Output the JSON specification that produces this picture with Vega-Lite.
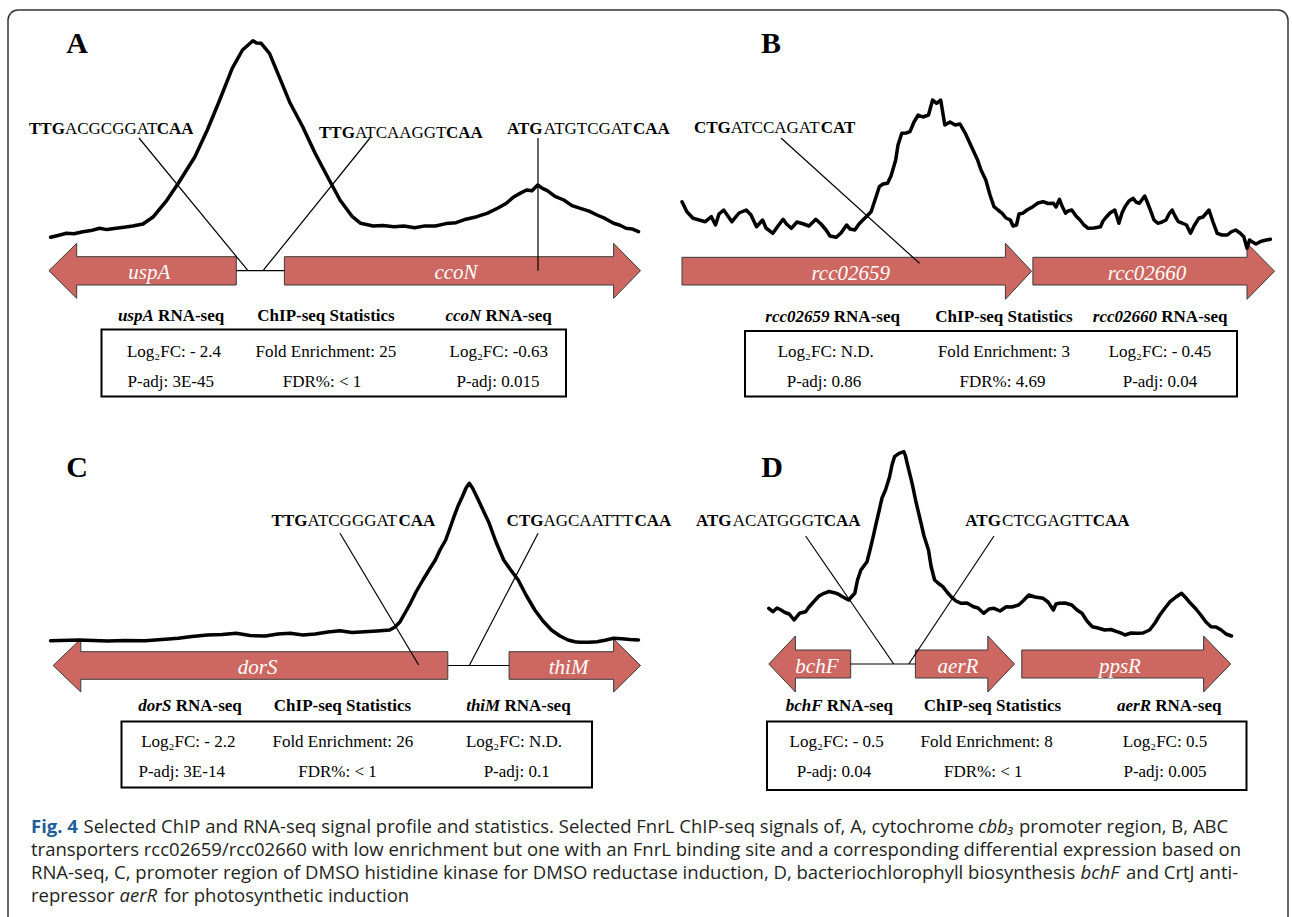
{
  "$schema": "https://vega.github.io/schema/vega-lite/v6.json",
  "width": 1292,
  "height": 917,
  "autosize": {"type": "fit", "contains": "padding"},
  "padding": 0,
  "background": "white",
  "config": {"view": {"stroke": null}},
  "datasets": {
    "frame": [{"pos": 8, "lev": 10, "pos2": 1288, "lev2": 960}],
    "statsBox": [
      {"panel": "A", "pos": 101.5, "lev": 329.5, "pos2": 566, "lev2": 396.5},
      {"panel": "B", "pos": 745, "lev": 331, "pos2": 1237, "lev2": 396.5},
      {"panel": "C", "pos": 121.5, "lev": 721.5, "pos2": 592, "lev2": 787.5},
      {"panel": "D", "pos": 767, "lev": 721.5, "pos2": 1246.5, "lev2": 790}
    ],
    "genes": [
      {"gene": "uspA", "k": 1, "pos": 48.9, "lev": 270.7}, {"gene": "uspA", "k": 2, "pos": 76.7, "lev": 243.3},
      {"gene": "uspA", "k": 3, "pos": 76.7, "lev": 256.7}, {"gene": "uspA", "k": 4, "pos": 236.3, "lev": 256.7},
      {"gene": "uspA", "k": 5, "pos": 236.3, "lev": 285}, {"gene": "uspA", "k": 6, "pos": 76.7, "lev": 285},
      {"gene": "uspA", "k": 7, "pos": 76.7, "lev": 298.3}, {"gene": "uspA", "k": 8, "pos": 48.9, "lev": 270.7},

      {"gene": "ccoN", "k": 1, "pos": 284.4, "lev": 256.7}, {"gene": "ccoN", "k": 2, "pos": 613.6, "lev": 256.7},
      {"gene": "ccoN", "k": 3, "pos": 613.6, "lev": 243.3}, {"gene": "ccoN", "k": 4, "pos": 640.5, "lev": 270.7},
      {"gene": "ccoN", "k": 5, "pos": 613.6, "lev": 298.3}, {"gene": "ccoN", "k": 6, "pos": 613.6, "lev": 285},
      {"gene": "ccoN", "k": 7, "pos": 284.4, "lev": 285}, {"gene": "ccoN", "k": 8, "pos": 284.4, "lev": 256.7},

      {"gene": "rcc02659", "k": 1, "pos": 682, "lev": 257.3}, {"gene": "rcc02659", "k": 2, "pos": 1005.4, "lev": 257.3},
      {"gene": "rcc02659", "k": 3, "pos": 1005.4, "lev": 243.3}, {"gene": "rcc02659", "k": 4, "pos": 1031.6, "lev": 271.2},
      {"gene": "rcc02659", "k": 5, "pos": 1005.4, "lev": 299.3}, {"gene": "rcc02659", "k": 6, "pos": 1005.4, "lev": 285},
      {"gene": "rcc02659", "k": 7, "pos": 682, "lev": 285}, {"gene": "rcc02659", "k": 8, "pos": 682, "lev": 257.3},

      {"gene": "rcc02660", "k": 1, "pos": 1032.9, "lev": 257.3}, {"gene": "rcc02660", "k": 2, "pos": 1247, "lev": 257.3},
      {"gene": "rcc02660", "k": 3, "pos": 1247, "lev": 243.3}, {"gene": "rcc02660", "k": 4, "pos": 1274.5, "lev": 271.2},
      {"gene": "rcc02660", "k": 5, "pos": 1247, "lev": 299.3}, {"gene": "rcc02660", "k": 6, "pos": 1247, "lev": 285},
      {"gene": "rcc02660", "k": 7, "pos": 1032.9, "lev": 285}, {"gene": "rcc02660", "k": 8, "pos": 1032.9, "lev": 257.3},

      {"gene": "dorS", "k": 1, "pos": 53.1, "lev": 665.5}, {"gene": "dorS", "k": 2, "pos": 80.8, "lev": 639},
      {"gene": "dorS", "k": 3, "pos": 80.8, "lev": 651.7}, {"gene": "dorS", "k": 4, "pos": 447.8, "lev": 651.7},
      {"gene": "dorS", "k": 5, "pos": 447.8, "lev": 679.3}, {"gene": "dorS", "k": 6, "pos": 80.8, "lev": 679.3},
      {"gene": "dorS", "k": 7, "pos": 80.8, "lev": 692}, {"gene": "dorS", "k": 8, "pos": 53.1, "lev": 665.5},

      {"gene": "thiM", "k": 1, "pos": 509.1, "lev": 651.7}, {"gene": "thiM", "k": 2, "pos": 613.6, "lev": 651.7},
      {"gene": "thiM", "k": 3, "pos": 613.6, "lev": 639}, {"gene": "thiM", "k": 4, "pos": 640.5, "lev": 665.5},
      {"gene": "thiM", "k": 5, "pos": 613.6, "lev": 692}, {"gene": "thiM", "k": 6, "pos": 613.6, "lev": 679.3},
      {"gene": "thiM", "k": 7, "pos": 509.1, "lev": 679.3}, {"gene": "thiM", "k": 8, "pos": 509.1, "lev": 651.7},

      {"gene": "bchF", "k": 1, "pos": 768.8, "lev": 664}, {"gene": "bchF", "k": 2, "pos": 795.4, "lev": 636},
      {"gene": "bchF", "k": 3, "pos": 795.4, "lev": 650}, {"gene": "bchF", "k": 4, "pos": 850.7, "lev": 650},
      {"gene": "bchF", "k": 5, "pos": 850.7, "lev": 678}, {"gene": "bchF", "k": 6, "pos": 795.4, "lev": 678},
      {"gene": "bchF", "k": 7, "pos": 795.4, "lev": 692}, {"gene": "bchF", "k": 8, "pos": 768.8, "lev": 664},

      {"gene": "aerR", "k": 1, "pos": 915.4, "lev": 650}, {"gene": "aerR", "k": 2, "pos": 987.8, "lev": 650},
      {"gene": "aerR", "k": 3, "pos": 987.8, "lev": 636}, {"gene": "aerR", "k": 4, "pos": 1014.5, "lev": 664},
      {"gene": "aerR", "k": 5, "pos": 987.8, "lev": 692}, {"gene": "aerR", "k": 6, "pos": 987.8, "lev": 678},
      {"gene": "aerR", "k": 7, "pos": 915.4, "lev": 678}, {"gene": "aerR", "k": 8, "pos": 915.4, "lev": 650},

      {"gene": "ppsR", "k": 1, "pos": 1021.8, "lev": 650}, {"gene": "ppsR", "k": 2, "pos": 1203.6, "lev": 650},
      {"gene": "ppsR", "k": 3, "pos": 1203.6, "lev": 636}, {"gene": "ppsR", "k": 4, "pos": 1230.7, "lev": 664},
      {"gene": "ppsR", "k": 5, "pos": 1203.6, "lev": 692}, {"gene": "ppsR", "k": 6, "pos": 1203.6, "lev": 678},
      {"gene": "ppsR", "k": 7, "pos": 1021.8, "lev": 678}, {"gene": "ppsR", "k": 8, "pos": 1021.8, "lev": 650}
    ],
    "connectors": [
      {"pos": 236.3, "lev": 270.7, "pos2": 284.4, "lev2": 270.7},
      {"pos": 139, "lev": 138, "pos2": 248, "lev2": 270.7},
      {"pos": 370, "lev": 138, "pos2": 263, "lev2": 270.7},
      {"pos": 538, "lev": 138, "pos2": 538, "lev2": 270.7},
      {"pos": 781, "lev": 138, "pos2": 919.5, "lev2": 263.3},
      {"pos": 447.8, "lev": 665.5, "pos2": 509.1, "lev2": 665.5},
      {"pos": 340, "lev": 533.3, "pos2": 418.7, "lev2": 665},
      {"pos": 538.1, "lev": 533.3, "pos2": 469.3, "lev2": 665.5},
      {"pos": 850.7, "lev": 664, "pos2": 915.4, "lev2": 664},
      {"pos": 805.6, "lev": 536, "pos2": 893.7, "lev2": 664},
      {"pos": 994, "lev": 536, "pos2": 908.8, "lev2": 664}
    ],
    "signal": [
      {"panel": "A", "pos": 50.6, "lev": 237.3}, {"panel": "A", "pos": 58, "lev": 235.5}, {"panel": "A", "pos": 66.3, "lev": 233.3},
      {"panel": "A", "pos": 74, "lev": 233.8}, {"panel": "A", "pos": 82.9, "lev": 231.7}, {"panel": "A", "pos": 91, "lev": 230.6},
      {"panel": "A", "pos": 99.5, "lev": 228.3}, {"panel": "A", "pos": 107, "lev": 229.6}, {"panel": "A", "pos": 116, "lev": 228.3},
      {"panel": "A", "pos": 124, "lev": 227.2}, {"panel": "A", "pos": 132.7, "lev": 226}, {"panel": "A", "pos": 143, "lev": 224},
      {"panel": "A", "pos": 153.4, "lev": 216.7}, {"panel": "A", "pos": 165.8, "lev": 201.7}, {"panel": "A", "pos": 178.3, "lev": 183.3},
      {"panel": "A", "pos": 194.9, "lev": 156.7}, {"panel": "A", "pos": 207.3, "lev": 130}, {"panel": "A", "pos": 219.7, "lev": 100},
      {"panel": "A", "pos": 232.2, "lev": 68.3}, {"panel": "A", "pos": 242.5, "lev": 50}, {"panel": "A", "pos": 252.9, "lev": 40.7},
      {"panel": "A", "pos": 256.5, "lev": 43}, {"panel": "A", "pos": 261.2, "lev": 43.3}, {"panel": "A", "pos": 269.5, "lev": 53.3},
      {"panel": "A", "pos": 277.8, "lev": 73.3}, {"panel": "A", "pos": 290.2, "lev": 103.3}, {"panel": "A", "pos": 302.7, "lev": 126.7},
      {"panel": "A", "pos": 315.1, "lev": 153.3}, {"panel": "A", "pos": 327.5, "lev": 176.7}, {"panel": "A", "pos": 340, "lev": 200},
      {"panel": "A", "pos": 352.4, "lev": 216.7}, {"panel": "A", "pos": 360.7, "lev": 223.3}, {"panel": "A", "pos": 373.1, "lev": 226},
      {"panel": "A", "pos": 383, "lev": 225.4}, {"panel": "A", "pos": 393.9, "lev": 226.7}, {"panel": "A", "pos": 404, "lev": 226.1},
      {"panel": "A", "pos": 414.6, "lev": 227.7}, {"panel": "A", "pos": 425, "lev": 225.9}, {"panel": "A", "pos": 435.3, "lev": 226},
      {"panel": "A", "pos": 446, "lev": 223.6}, {"panel": "A", "pos": 456, "lev": 222.7}, {"panel": "A", "pos": 466, "lev": 219.2},
      {"panel": "A", "pos": 476.8, "lev": 216.7}, {"panel": "A", "pos": 487, "lev": 213.4}, {"panel": "A", "pos": 497.5, "lev": 208.3},
      {"panel": "A", "pos": 506, "lev": 203.5}, {"panel": "A", "pos": 514.1, "lev": 196.7}, {"panel": "A", "pos": 520, "lev": 193.4},
      {"panel": "A", "pos": 526.5, "lev": 190}, {"panel": "A", "pos": 532, "lev": 190.8}, {"panel": "A", "pos": 537.7, "lev": 185},
      {"panel": "A", "pos": 542, "lev": 188.2}, {"panel": "A", "pos": 547.3, "lev": 190.7}, {"panel": "A", "pos": 555, "lev": 196.4},
      {"panel": "A", "pos": 563.8, "lev": 200}, {"panel": "A", "pos": 572, "lev": 205.6}, {"panel": "A", "pos": 580.4, "lev": 208.3},
      {"panel": "A", "pos": 589, "lev": 211.2}, {"panel": "A", "pos": 597, "lev": 215}, {"panel": "A", "pos": 605, "lev": 218.4},
      {"panel": "A", "pos": 613.6, "lev": 223.3}, {"panel": "A", "pos": 620, "lev": 225.2}, {"panel": "A", "pos": 626, "lev": 228.3},
      {"panel": "A", "pos": 632, "lev": 228.9}, {"panel": "A", "pos": 638.5, "lev": 231.7},

      {"panel": "B", "pos": 682, "lev": 201.7}, {"panel": "B", "pos": 686.9, "lev": 211.7}, {"panel": "B", "pos": 693, "lev": 218.3},
      {"panel": "B", "pos": 699.1, "lev": 220}, {"panel": "B", "pos": 705.3, "lev": 221.7}, {"panel": "B", "pos": 711.4, "lev": 216.7},
      {"panel": "B", "pos": 715.5, "lev": 225}, {"panel": "B", "pos": 719, "lev": 214}, {"panel": "B", "pos": 723.7, "lev": 210},
      {"panel": "B", "pos": 731.9, "lev": 221.7}, {"panel": "B", "pos": 739, "lev": 213}, {"panel": "B", "pos": 746.2, "lev": 210},
      {"panel": "B", "pos": 751, "lev": 215}, {"panel": "B", "pos": 756.5, "lev": 226.7}, {"panel": "B", "pos": 762.6, "lev": 220},
      {"panel": "B", "pos": 766, "lev": 228}, {"panel": "B", "pos": 772.9, "lev": 233.3}, {"panel": "B", "pos": 778, "lev": 226},
      {"panel": "B", "pos": 783.1, "lev": 219.3}, {"panel": "B", "pos": 786.5, "lev": 224}, {"panel": "B", "pos": 791.3, "lev": 228.3},
      {"panel": "B", "pos": 797, "lev": 222}, {"panel": "B", "pos": 803.6, "lev": 224}, {"panel": "B", "pos": 809, "lev": 226},
      {"panel": "B", "pos": 815.8, "lev": 219.3}, {"panel": "B", "pos": 821, "lev": 224}, {"panel": "B", "pos": 826.1, "lev": 230},
      {"panel": "B", "pos": 830, "lev": 236}, {"panel": "B", "pos": 836.3, "lev": 237.3}, {"panel": "B", "pos": 841, "lev": 233},
      {"panel": "B", "pos": 846.6, "lev": 225}, {"panel": "B", "pos": 850, "lev": 229}, {"panel": "B", "pos": 854.8, "lev": 230},
      {"panel": "B", "pos": 859, "lev": 224}, {"panel": "B", "pos": 862.9, "lev": 220}, {"panel": "B", "pos": 867, "lev": 216},
      {"panel": "B", "pos": 871.1, "lev": 211.7}, {"panel": "B", "pos": 875, "lev": 200}, {"panel": "B", "pos": 879.3, "lev": 186.7},
      {"panel": "B", "pos": 883, "lev": 184}, {"panel": "B", "pos": 887.5, "lev": 183.3}, {"panel": "B", "pos": 891, "lev": 176},
      {"panel": "B", "pos": 895.7, "lev": 160}, {"panel": "B", "pos": 898, "lev": 145}, {"panel": "B", "pos": 901.8, "lev": 133.3},
      {"panel": "B", "pos": 906, "lev": 133}, {"panel": "B", "pos": 910, "lev": 131.7}, {"panel": "B", "pos": 914, "lev": 122},
      {"panel": "B", "pos": 918.2, "lev": 115}, {"panel": "B", "pos": 923, "lev": 117}, {"panel": "B", "pos": 928.5, "lev": 115},
      {"panel": "B", "pos": 932.6, "lev": 100}, {"panel": "B", "pos": 936.6, "lev": 103.3}, {"panel": "B", "pos": 940.7, "lev": 100},
      {"panel": "B", "pos": 944.8, "lev": 125}, {"panel": "B", "pos": 950, "lev": 122}, {"panel": "B", "pos": 955.1, "lev": 125},
      {"panel": "B", "pos": 960, "lev": 124}, {"panel": "B", "pos": 965.3, "lev": 133.3}, {"panel": "B", "pos": 971.5, "lev": 146.7},
      {"panel": "B", "pos": 977.6, "lev": 160}, {"panel": "B", "pos": 981, "lev": 170}, {"panel": "B", "pos": 985.8, "lev": 180},
      {"panel": "B", "pos": 990, "lev": 195}, {"panel": "B", "pos": 994, "lev": 206.7}, {"panel": "B", "pos": 998, "lev": 210},
      {"panel": "B", "pos": 1002.2, "lev": 213.3}, {"panel": "B", "pos": 1006, "lev": 218}, {"panel": "B", "pos": 1010.4, "lev": 220},
      {"panel": "B", "pos": 1013, "lev": 226}, {"panel": "B", "pos": 1016.5, "lev": 225}, {"panel": "B", "pos": 1019, "lev": 214},
      {"panel": "B", "pos": 1022.6, "lev": 213.3}, {"panel": "B", "pos": 1027, "lev": 210}, {"panel": "B", "pos": 1032.9, "lev": 206.7},
      {"panel": "B", "pos": 1038, "lev": 203}, {"panel": "B", "pos": 1043.1, "lev": 201.7}, {"panel": "B", "pos": 1048, "lev": 203.5},
      {"panel": "B", "pos": 1053.4, "lev": 203.3}, {"panel": "B", "pos": 1056, "lev": 207}, {"panel": "B", "pos": 1059.5, "lev": 199.3},
      {"panel": "B", "pos": 1062, "lev": 206}, {"panel": "B", "pos": 1065.6, "lev": 213.3}, {"panel": "B", "pos": 1068, "lev": 211},
      {"panel": "B", "pos": 1071.8, "lev": 210}, {"panel": "B", "pos": 1076, "lev": 216}, {"panel": "B", "pos": 1080, "lev": 220},
      {"panel": "B", "pos": 1084, "lev": 225}, {"panel": "B", "pos": 1088.2, "lev": 228.3}, {"panel": "B", "pos": 1094, "lev": 228},
      {"panel": "B", "pos": 1100.5, "lev": 226.7}, {"panel": "B", "pos": 1103, "lev": 221}, {"panel": "B", "pos": 1106.6, "lev": 216.7},
      {"panel": "B", "pos": 1110, "lev": 213}, {"panel": "B", "pos": 1114.8, "lev": 210}, {"panel": "B", "pos": 1118.9, "lev": 223.3},
      {"panel": "B", "pos": 1122, "lev": 213}, {"panel": "B", "pos": 1125, "lev": 206.7}, {"panel": "B", "pos": 1129, "lev": 201},
      {"panel": "B", "pos": 1133.2, "lev": 198.3}, {"panel": "B", "pos": 1136, "lev": 202}, {"panel": "B", "pos": 1139.4, "lev": 203.3},
      {"panel": "B", "pos": 1144.7, "lev": 196}, {"panel": "B", "pos": 1148, "lev": 204}, {"panel": "B", "pos": 1151.6, "lev": 213.3},
      {"panel": "B", "pos": 1154, "lev": 220}, {"panel": "B", "pos": 1157.8, "lev": 223.3}, {"panel": "B", "pos": 1162, "lev": 222},
      {"panel": "B", "pos": 1166, "lev": 220}, {"panel": "B", "pos": 1169, "lev": 214}, {"panel": "B", "pos": 1172.1, "lev": 210},
      {"panel": "B", "pos": 1175, "lev": 216}, {"panel": "B", "pos": 1178.3, "lev": 221.7}, {"panel": "B", "pos": 1182, "lev": 223},
      {"panel": "B", "pos": 1186.5, "lev": 225}, {"panel": "B", "pos": 1190.5, "lev": 233.3}, {"panel": "B", "pos": 1194, "lev": 226},
      {"panel": "B", "pos": 1198.7, "lev": 218.3}, {"panel": "B", "pos": 1203, "lev": 217}, {"panel": "B", "pos": 1209, "lev": 210},
      {"panel": "B", "pos": 1213, "lev": 222}, {"panel": "B", "pos": 1217.2, "lev": 233.3}, {"panel": "B", "pos": 1222, "lev": 235},
      {"panel": "B", "pos": 1227.4, "lev": 235}, {"panel": "B", "pos": 1231, "lev": 232}, {"panel": "B", "pos": 1235.6, "lev": 230},
      {"panel": "B", "pos": 1240, "lev": 233}, {"panel": "B", "pos": 1243.8, "lev": 236.7}, {"panel": "B", "pos": 1247, "lev": 248.3},
      {"panel": "B", "pos": 1249.5, "lev": 240}, {"panel": "B", "pos": 1252, "lev": 241.7}, {"panel": "B", "pos": 1256, "lev": 244},
      {"panel": "B", "pos": 1260.2, "lev": 241.7}, {"panel": "B", "pos": 1264, "lev": 240.5}, {"panel": "B", "pos": 1270.4, "lev": 239.3},

      {"panel": "C", "pos": 50.6, "lev": 640.7}, {"panel": "C", "pos": 78.8, "lev": 640}, {"panel": "C", "pos": 107.8, "lev": 641},
      {"panel": "C", "pos": 125, "lev": 640.5}, {"panel": "C", "pos": 145.1, "lev": 640.7}, {"panel": "C", "pos": 162, "lev": 639.5},
      {"panel": "C", "pos": 178.3, "lev": 638.3}, {"panel": "C", "pos": 192, "lev": 636.5}, {"panel": "C", "pos": 207.3, "lev": 635},
      {"panel": "C", "pos": 222, "lev": 634.5}, {"panel": "C", "pos": 236.3, "lev": 633.3}, {"panel": "C", "pos": 250, "lev": 635.5},
      {"panel": "C", "pos": 265.3, "lev": 636}, {"panel": "C", "pos": 278, "lev": 634}, {"panel": "C", "pos": 290.2, "lev": 633.3},
      {"panel": "C", "pos": 303, "lev": 635}, {"panel": "C", "pos": 315.1, "lev": 634}, {"panel": "C", "pos": 328, "lev": 632},
      {"panel": "C", "pos": 340, "lev": 630.7}, {"panel": "C", "pos": 352, "lev": 632.5}, {"panel": "C", "pos": 364.8, "lev": 631.7},
      {"panel": "C", "pos": 377, "lev": 631}, {"panel": "C", "pos": 389.7, "lev": 630}, {"panel": "C", "pos": 395, "lev": 627},
      {"panel": "C", "pos": 400.1, "lev": 621.7}, {"panel": "C", "pos": 405, "lev": 613}, {"panel": "C", "pos": 410.4, "lev": 603.3},
      {"panel": "C", "pos": 416, "lev": 592}, {"panel": "C", "pos": 422.9, "lev": 580}, {"panel": "C", "pos": 429, "lev": 570},
      {"panel": "C", "pos": 435.3, "lev": 560}, {"panel": "C", "pos": 440, "lev": 550}, {"panel": "C", "pos": 445.7, "lev": 540},
      {"panel": "C", "pos": 450, "lev": 528}, {"panel": "C", "pos": 454, "lev": 516.7}, {"panel": "C", "pos": 458, "lev": 506},
      {"panel": "C", "pos": 462.3, "lev": 496.7}, {"panel": "C", "pos": 466, "lev": 488}, {"panel": "C", "pos": 469.3, "lev": 483.3},
      {"panel": "C", "pos": 472.5, "lev": 488}, {"panel": "C", "pos": 476.8, "lev": 496.7}, {"panel": "C", "pos": 483, "lev": 510},
      {"panel": "C", "pos": 489.2, "lev": 523.3}, {"panel": "C", "pos": 496, "lev": 542}, {"panel": "C", "pos": 503.7, "lev": 560},
      {"panel": "C", "pos": 510, "lev": 569}, {"panel": "C", "pos": 518.2, "lev": 580}, {"panel": "C", "pos": 526, "lev": 595},
      {"panel": "C", "pos": 534.8, "lev": 610}, {"panel": "C", "pos": 543, "lev": 621}, {"panel": "C", "pos": 551.4, "lev": 630},
      {"panel": "C", "pos": 560, "lev": 636}, {"panel": "C", "pos": 568, "lev": 640}, {"panel": "C", "pos": 575, "lev": 641.8},
      {"panel": "C", "pos": 580.4, "lev": 642.3}, {"panel": "C", "pos": 589, "lev": 642.2}, {"panel": "C", "pos": 597, "lev": 641.7},
      {"panel": "C", "pos": 605, "lev": 640.2}, {"panel": "C", "pos": 613.6, "lev": 638.3}, {"panel": "C", "pos": 622, "lev": 638.8},
      {"panel": "C", "pos": 630, "lev": 639.5}, {"panel": "C", "pos": 638.5, "lev": 640},

      {"panel": "D", "pos": 768.8, "lev": 608.3}, {"panel": "D", "pos": 772.9, "lev": 611.7}, {"panel": "D", "pos": 777, "lev": 608},
      {"panel": "D", "pos": 781, "lev": 610}, {"panel": "D", "pos": 785, "lev": 612.5}, {"panel": "D", "pos": 789.2, "lev": 614},
      {"panel": "D", "pos": 794.1, "lev": 620}, {"panel": "D", "pos": 799.5, "lev": 613.3}, {"panel": "D", "pos": 805.6, "lev": 611.7},
      {"panel": "D", "pos": 809, "lev": 607}, {"panel": "D", "pos": 813.8, "lev": 601.7}, {"panel": "D", "pos": 819, "lev": 596},
      {"panel": "D", "pos": 824, "lev": 593.3}, {"panel": "D", "pos": 829, "lev": 591.5}, {"panel": "D", "pos": 834.3, "lev": 592.7},
      {"panel": "D", "pos": 838, "lev": 594}, {"panel": "D", "pos": 842.5, "lev": 596.7}, {"panel": "D", "pos": 848.6, "lev": 600},
      {"panel": "D", "pos": 854.8, "lev": 593.3}, {"panel": "D", "pos": 857.5, "lev": 580}, {"panel": "D", "pos": 860.9, "lev": 570},
      {"panel": "D", "pos": 867, "lev": 561.7}, {"panel": "D", "pos": 870, "lev": 550}, {"panel": "D", "pos": 873.2, "lev": 536.7},
      {"panel": "D", "pos": 876, "lev": 524}, {"panel": "D", "pos": 879.3, "lev": 510}, {"panel": "D", "pos": 882, "lev": 498},
      {"panel": "D", "pos": 885.5, "lev": 490}, {"panel": "D", "pos": 889.6, "lev": 476.7}, {"panel": "D", "pos": 892, "lev": 465},
      {"panel": "D", "pos": 894.5, "lev": 456.7}, {"panel": "D", "pos": 899, "lev": 453.3}, {"panel": "D", "pos": 903.9, "lev": 451.7},
      {"panel": "D", "pos": 905.5, "lev": 456}, {"panel": "D", "pos": 907.2, "lev": 463.3}, {"panel": "D", "pos": 912.1, "lev": 483.3},
      {"panel": "D", "pos": 916, "lev": 502}, {"panel": "D", "pos": 920.3, "lev": 520}, {"panel": "D", "pos": 924, "lev": 536},
      {"panel": "D", "pos": 928.5, "lev": 550}, {"panel": "D", "pos": 931, "lev": 566}, {"panel": "D", "pos": 934.6, "lev": 580},
      {"panel": "D", "pos": 938, "lev": 583}, {"panel": "D", "pos": 942.8, "lev": 586.7}, {"panel": "D", "pos": 947, "lev": 592},
      {"panel": "D", "pos": 951, "lev": 596.7}, {"panel": "D", "pos": 956, "lev": 601}, {"panel": "D", "pos": 961.2, "lev": 603.3},
      {"panel": "D", "pos": 967, "lev": 603}, {"panel": "D", "pos": 973.5, "lev": 606.7}, {"panel": "D", "pos": 978, "lev": 608},
      {"panel": "D", "pos": 983.7, "lev": 613.3}, {"panel": "D", "pos": 989, "lev": 609}, {"panel": "D", "pos": 994, "lev": 608.3},
      {"panel": "D", "pos": 1000, "lev": 611}, {"panel": "D", "pos": 1006.3, "lev": 606.7}, {"panel": "D", "pos": 1012, "lev": 607},
      {"panel": "D", "pos": 1018.5, "lev": 605}, {"panel": "D", "pos": 1023, "lev": 601}, {"panel": "D", "pos": 1028.8, "lev": 595},
      {"panel": "D", "pos": 1035, "lev": 597}, {"panel": "D", "pos": 1043.1, "lev": 598.3}, {"panel": "D", "pos": 1048, "lev": 602},
      {"panel": "D", "pos": 1053.4, "lev": 610}, {"panel": "D", "pos": 1056, "lev": 604}, {"panel": "D", "pos": 1059.5, "lev": 603.3},
      {"panel": "D", "pos": 1065, "lev": 603}, {"panel": "D", "pos": 1071.8, "lev": 605}, {"panel": "D", "pos": 1077, "lev": 610},
      {"panel": "D", "pos": 1082, "lev": 613.3}, {"panel": "D", "pos": 1087, "lev": 621}, {"panel": "D", "pos": 1092.3, "lev": 626.7},
      {"panel": "D", "pos": 1098, "lev": 628}, {"panel": "D", "pos": 1104.6, "lev": 630}, {"panel": "D", "pos": 1111, "lev": 629.5},
      {"panel": "D", "pos": 1116.8, "lev": 631.7}, {"panel": "D", "pos": 1121, "lev": 633}, {"panel": "D", "pos": 1125, "lev": 635},
      {"panel": "D", "pos": 1131, "lev": 633}, {"panel": "D", "pos": 1137.3, "lev": 633.3}, {"panel": "D", "pos": 1143, "lev": 633},
      {"panel": "D", "pos": 1149.6, "lev": 630}, {"panel": "D", "pos": 1155, "lev": 623}, {"panel": "D", "pos": 1159.8, "lev": 615},
      {"panel": "D", "pos": 1165, "lev": 608}, {"panel": "D", "pos": 1170.1, "lev": 601.7}, {"panel": "D", "pos": 1176, "lev": 597},
      {"panel": "D", "pos": 1181.5, "lev": 593.3}, {"panel": "D", "pos": 1186, "lev": 598}, {"panel": "D", "pos": 1190.5, "lev": 603.3},
      {"panel": "D", "pos": 1196, "lev": 609}, {"panel": "D", "pos": 1200.8, "lev": 615}, {"panel": "D", "pos": 1206, "lev": 622},
      {"panel": "D", "pos": 1211, "lev": 626.7}, {"panel": "D", "pos": 1216, "lev": 627}, {"panel": "D", "pos": 1221.2, "lev": 630},
      {"panel": "D", "pos": 1226, "lev": 634}, {"panel": "D", "pos": 1231.5, "lev": 636}
    ],
    "geneNames": [
      {"pos": 149.3, "lev": 279, "t": "uspA"},
      {"pos": 456, "lev": 279, "t": "ccoN"},
      {"pos": 850.7, "lev": 279.5, "t": "rcc02659"},
      {"pos": 1147, "lev": 279.5, "t": "rcc02660"},
      {"pos": 257.7, "lev": 673.5, "t": "dorS"},
      {"pos": 568.6, "lev": 673.5, "t": "thiM"},
      {"pos": 816.9, "lev": 672.5, "t": "bchF"},
      {"pos": 958, "lev": 672.5, "t": "aerR"},
      {"pos": 1119.9, "lev": 672.5, "t": "ppsR"}
    ],
    "motifHalfSites": [
      {"pos": 29, "lev": 134, "t": "TTG"}, {"pos": 156.8, "lev": 134, "t": "CAA"},
      {"pos": 319, "lev": 137.5, "t": "TTG"}, {"pos": 446, "lev": 137.5, "t": "CAA"},
      {"pos": 507, "lev": 133.5, "t": "ATG"}, {"pos": 632.9, "lev": 133.5, "t": "CAA"},
      {"pos": 694, "lev": 132.7, "t": "CTG"}, {"pos": 820.8, "lev": 132.7, "t": "CAT"},
      {"pos": 271.6, "lev": 526, "t": "TTG"}, {"pos": 398.5, "lev": 526, "t": "CAA"},
      {"pos": 506.6, "lev": 526, "t": "CTG"}, {"pos": 634.5, "lev": 526, "t": "CAA"},
      {"pos": 695.9, "lev": 525.7, "t": "ATG"}, {"pos": 823.7, "lev": 525.7, "t": "CAA"},
      {"pos": 965.3, "lev": 525.7, "t": "ATG"}, {"pos": 1092.8, "lev": 525.7, "t": "CAA"}
    ],
    "motifSpacers": [
      {"pos": 64.9, "lev": 134, "t": "ACGCGGAT"},
      {"pos": 354.9, "lev": 137.5, "t": "ATCAAGGT"},
      {"pos": 543.8, "lev": 133.5, "t": "ATGTCGAT"},
      {"pos": 730.8, "lev": 132.7, "t": "ATCCAGAT"},
      {"pos": 307.5, "lev": 526, "t": "ATCGGGAT"},
      {"pos": 543.4, "lev": 526, "t": "AGCAATTT"},
      {"pos": 732.7, "lev": 525.7, "t": "ACATGGGT"},
      {"pos": 1002.1, "lev": 525.7, "t": "CTCGAGTT"}
    ],
    "headerGenes": [
      {"pos": 153.8, "lev": 321, "t": "uspA"}, {"pos": 481.3, "lev": 321, "t": "ccoN"},
      {"pos": 829.5, "lev": 321.5, "t": "rcc02659"}, {"pos": 1157, "lev": 321.5, "t": "rcc02660"},
      {"pos": 171.4, "lev": 710.7, "t": "dorS"}, {"pos": 500.2, "lev": 710.7, "t": "thiM"},
      {"pos": 822.5, "lev": 710.7, "t": "bchF"}, {"pos": 1151, "lev": 710.7, "t": "aerR"}
    ],
    "headerRest": [
      {"pos": 158.1, "lev": 321, "t": "RNA-seq"}, {"pos": 485.6, "lev": 321, "t": "RNA-seq"},
      {"pos": 833.8, "lev": 321.5, "t": "RNA-seq"}, {"pos": 1161.3, "lev": 321.5, "t": "RNA-seq"},
      {"pos": 175.7, "lev": 710.7, "t": "RNA-seq"}, {"pos": 504.5, "lev": 710.7, "t": "RNA-seq"},
      {"pos": 826.8, "lev": 710.7, "t": "RNA-seq"}, {"pos": 1155.3, "lev": 710.7, "t": "RNA-seq"}
    ],
    "headerStats": [
      {"pos": 326, "lev": 321, "t": "ChIP-seq Statistics"},
      {"pos": 1004, "lev": 321.5, "t": "ChIP-seq Statistics"},
      {"pos": 342.5, "lev": 710.7, "t": "ChIP-seq Statistics"},
      {"pos": 992.5, "lev": 710.7, "t": "ChIP-seq Statistics"}
    ],
    "cells": [
      {"pos": 174, "lev": 357.3, "t": "Log₂FC: - 2.4"},
      {"pos": 325.8, "lev": 357.3, "t": "Fold Enrichment: 25"},
      {"pos": 498.8, "lev": 357.3, "t": "Log₂FC:  -0.63"},
      {"pos": 170.8, "lev": 387.3, "t": "P-adj: 3E-45"},
      {"pos": 322, "lev": 387.3, "t": "FDR%: < 1"},
      {"pos": 498, "lev": 387.3, "t": "P-adj: 0.015"},
      {"pos": 825.8, "lev": 357.3, "t": "Log₂FC: N.D."},
      {"pos": 1004, "lev": 357.3, "t": "Fold Enrichment: 3"},
      {"pos": 1160, "lev": 357.3, "t": "Log₂FC: - 0.45"},
      {"pos": 824, "lev": 387.3, "t": "P-adj: 0.86"},
      {"pos": 1002.5, "lev": 387.3, "t": "FDR%:  4.69"},
      {"pos": 1160, "lev": 387.3, "t": "P-adj: 0.04"},
      {"pos": 188.3, "lev": 747.3, "t": "Log₂FC: - 2.2"},
      {"pos": 342.8, "lev": 747.3, "t": "Fold Enrichment: 26"},
      {"pos": 514, "lev": 747.3, "t": "Log₂FC: N.D."},
      {"pos": 181.7, "lev": 777.3, "t": "P-adj: 3E-14"},
      {"pos": 337.5, "lev": 777.3, "t": "FDR%: < 1"},
      {"pos": 516.7, "lev": 777.3, "t": "P-adj: 0.1"},
      {"pos": 836.7, "lev": 747.3, "t": "Log₂FC: - 0.5"},
      {"pos": 986.7, "lev": 747.3, "t": "Fold Enrichment: 8"},
      {"pos": 1165, "lev": 747.3, "t": "Log₂FC: 0.5"},
      {"pos": 834, "lev": 777.3, "t": "P-adj: 0.04"},
      {"pos": 983.3, "lev": 777.3, "t": "FDR%: < 1"},
      {"pos": 1165, "lev": 777.3, "t": "P-adj: 0.005"}
    ],
    "panelLetters": [
      {"pos": 77, "lev": 52.7, "t": "A"},
      {"pos": 771, "lev": 52.7, "t": "B"},
      {"pos": 77, "lev": 476.7, "t": "C"},
      {"pos": 772, "lev": 476.7, "t": "D"}
    ],
    "captionLabel": [{"pos": 31, "lev": 833, "t": "Fig. 4"}],
    "captionText": [
      {"pos": 83.5, "lev": 833, "t": "Selected ChIP and RNA-seq signal profile and statistics. Selected FnrL ChIP-seq signals of, A, cytochrome"},
      {"pos": 1019, "lev": 833, "t": "promoter region, B, ABC"},
      {"pos": 31, "lev": 856, "t": "transporters rcc02659/rcc02660 with low enrichment but one with an FnrL binding site and a corresponding differential expression based on"},
      {"pos": 31, "lev": 879, "t": "RNA-seq, C, promoter region of DMSO histidine kinase for DMSO reductase induction, D, bacteriochlorophyll biosynthesis"},
      {"pos": 1126, "lev": 879, "t": "and CrtJ anti-"},
      {"pos": 31, "lev": 902, "t": "repressor"},
      {"pos": 164, "lev": 902, "t": "for photosynthetic induction"}
    ],
    "captionItalic": [
      {"pos": 978, "lev": 833, "t": "cbb₃"},
      {"pos": 1080.5, "lev": 879, "t": "bchF"},
      {"pos": 119.6, "lev": 902, "t": "aerR"}
    ]
  },
  "encoding": {
    "x": {"field": "pos", "type": "quantitative", "scale": {"domain": [0, 1292], "nice": false, "zero": false}, "axis": null},
    "y": {"field": "lev", "type": "quantitative", "scale": {"domain": [0, 917], "nice": false, "zero": false, "reverse": true}, "axis": null}
  },
  "layer": [
    {
      "data": {"name": "frame"},
      "mark": {"type": "rect", "filled": false, "stroke": "#333333", "strokeWidth": 1.5, "cornerRadius": 10, "clip": true},
      "encoding": {"x2": {"field": "pos2"}, "y2": {"field": "lev2"}}
    },
    {
      "data": {"name": "statsBox"},
      "mark": {"type": "rect", "filled": false, "stroke": "#000000", "strokeWidth": 2},
      "encoding": {"x2": {"field": "pos2"}, "y2": {"field": "lev2"}}
    },
    {
      "data": {"name": "genes"},
      "mark": {"type": "line", "fill": "#cd6761", "fillOpacity": 1, "stroke": "#3a3a3a", "strokeWidth": 1, "strokeJoin": "miter", "interpolate": "linear"},
      "encoding": {
        "order": {"field": "k", "type": "quantitative"},
        "detail": {"field": "gene", "type": "nominal"}
      }
    },
    {
      "data": {"name": "connectors"},
      "mark": {"type": "rule", "color": "#000000", "strokeWidth": 1.2},
      "encoding": {"x2": {"field": "pos2"}, "y2": {"field": "lev2"}}
    },
    {
      "data": {"name": "signal"},
      "mark": {"type": "line", "color": "#000000", "strokeWidth": 3.5, "strokeJoin": "round", "strokeCap": "round"},
      "encoding": {"detail": {"field": "panel", "type": "nominal"}}
    },
    {
      "data": {"name": "geneNames"},
      "mark": {"type": "text", "font": "Liberation Serif", "fontSize": 21, "fontStyle": "italic", "color": "#ffffff", "align": "center", "baseline": "alphabetic"},
      "encoding": {"text": {"field": "t"}}
    },
    {
      "data": {"name": "motifHalfSites"},
      "mark": {"type": "text", "font": "Liberation Serif", "fontSize": 17, "fontWeight": "bold", "color": "#000000", "align": "left", "baseline": "alphabetic"},
      "encoding": {"text": {"field": "t"}}
    },
    {
      "data": {"name": "motifSpacers"},
      "mark": {"type": "text", "font": "Liberation Serif", "fontSize": 17, "color": "#000000", "align": "left", "baseline": "alphabetic"},
      "encoding": {"text": {"field": "t"}}
    },
    {
      "data": {"name": "headerGenes"},
      "mark": {"type": "text", "font": "Liberation Serif", "fontSize": 17, "fontWeight": "bold", "fontStyle": "italic", "color": "#000000", "align": "right", "baseline": "alphabetic"},
      "encoding": {"text": {"field": "t"}}
    },
    {
      "data": {"name": "headerRest"},
      "mark": {"type": "text", "font": "Liberation Serif", "fontSize": 17, "fontWeight": "bold", "color": "#000000", "align": "left", "baseline": "alphabetic"},
      "encoding": {"text": {"field": "t"}}
    },
    {
      "data": {"name": "headerStats"},
      "mark": {"type": "text", "font": "Liberation Serif", "fontSize": 17, "fontWeight": "bold", "color": "#000000", "align": "center", "baseline": "alphabetic"},
      "encoding": {"text": {"field": "t"}}
    },
    {
      "data": {"name": "cells"},
      "mark": {"type": "text", "font": "Liberation Serif", "fontSize": 17, "color": "#000000", "align": "center", "baseline": "alphabetic"},
      "encoding": {"text": {"field": "t"}}
    },
    {
      "data": {"name": "panelLetters"},
      "mark": {"type": "text", "font": "Liberation Serif", "fontSize": 30, "fontWeight": "bold", "color": "#000000", "align": "center", "baseline": "alphabetic"},
      "encoding": {"text": {"field": "t"}}
    },
    {
      "data": {"name": "captionLabel"},
      "mark": {"type": "text", "font": "Open Sans", "fontSize": 18.5, "fontWeight": "bold", "color": "#1f5c99", "align": "left", "baseline": "alphabetic"},
      "encoding": {"text": {"field": "t"}}
    },
    {
      "data": {"name": "captionText"},
      "mark": {"type": "text", "font": "Open Sans", "fontSize": 18.5, "color": "#231f20", "align": "left", "baseline": "alphabetic"},
      "encoding": {"text": {"field": "t"}}
    },
    {
      "data": {"name": "captionItalic"},
      "mark": {"type": "text", "font": "Open Sans", "fontSize": 18.5, "fontStyle": "italic", "color": "#231f20", "align": "left", "baseline": "alphabetic"},
      "encoding": {"text": {"field": "t"}}
    }
  ]
}
